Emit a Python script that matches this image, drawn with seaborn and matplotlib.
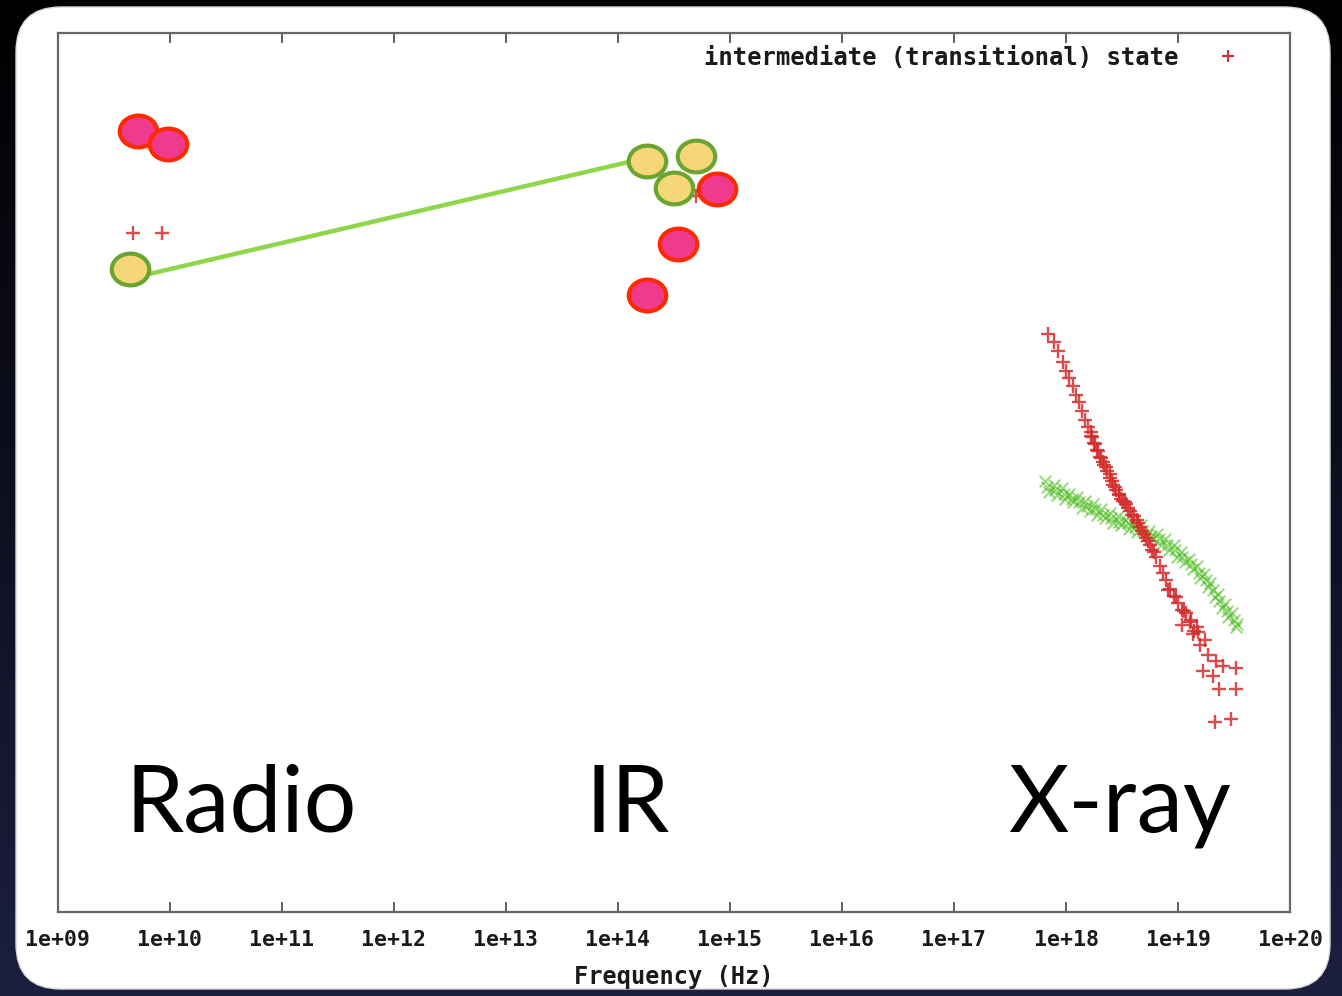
import numpy as np
import pandas as pd
import matplotlib
matplotlib.use("Agg")
import matplotlib.pyplot as plt
import seaborn as sns
from matplotlib.patches import FancyBboxPatch
from matplotlib.path import Path
from matplotlib.lines import Line2D
from matplotlib.ticker import FixedLocator, FuncFormatter, NullLocator
from matplotlib.transforms import IdentityTransform, Affine2D

# ---- spectral energy distribution, log10 frequency [Hz] / log10 flux ----
# intermediate (transitional) state: radio, IR and X-ray spectrum
inter_logf = [9.67, 9.93, 14.70,
              17.84, 17.89, 17.93, 17.97, 18.00, 18.03, 18.06, 18.09, 18.12, 18.14,
              18.17, 18.20, 18.22, 18.25, 18.28, 18.30, 18.33, 18.36, 18.39, 18.41,
              18.44, 18.47, 18.49, 18.53, 18.55, 18.59, 18.63, 18.66, 18.70, 18.73,
              18.77, 18.80, 18.84, 18.87, 18.89, 18.93, 18.96, 19.00, 19.04, 19.07,
              19.11, 19.14, 19.18,
              18.22, 18.23, 18.26, 18.29, 18.31, 18.34, 18.37, 18.39, 18.42, 18.45,
              18.47, 18.51, 18.54, 18.57, 18.61, 18.64, 18.68, 18.71, 18.75, 18.79,
              18.91, 18.98, 19.05, 19.12, 19.17, 19.04, 19.20,
              19.13, 19.24, 19.27, 19.34, 19.22, 19.31, 19.40, 19.52, 19.37, 19.52,
              19.33, 19.47]
inter_logF = [-9.14, -9.14, -8.93,
              -9.71, -9.76, -9.81, -9.87, -9.92, -9.96, -10.01, -10.06, -10.10, -10.15,
              -10.20, -10.24, -10.29, -10.33, -10.37, -10.41, -10.44, -10.47, -10.51, -10.55,
              -10.58, -10.62, -10.65, -10.67, -10.70, -10.74, -10.77, -10.81, -10.85, -10.89,
              -10.94, -10.98, -11.03, -11.07, -11.11, -11.16, -11.20, -11.24, -11.28, -11.30,
              -11.35, -11.40, -11.41,
              -10.27, -10.30, -10.34, -10.38, -10.42, -10.46, -10.49, -10.53, -10.57, -10.60,
              -10.63, -10.66, -10.68, -10.72, -10.75, -10.79, -10.83, -10.87, -10.91, -10.95,
              -11.17, -11.21, -11.29, -11.34, -11.38, -11.37, -11.48,
              -11.42, -11.45, -11.54, -11.57, -11.63, -11.66, -11.60, -11.61, -11.73, -11.73,
              -11.92, -11.90]

# hard state X-ray spectrum
hard_logf = [17.81, 17.85, 17.89, 17.92, 17.96, 17.99, 18.03, 18.06, 18.10, 18.14,
             18.17, 18.21, 18.24, 18.28, 18.31, 18.35, 18.39, 18.42, 18.46, 18.49,
             18.53, 18.56, 18.60, 18.63, 18.67, 18.71, 18.74, 18.78, 18.81, 18.85,
             18.88, 18.92, 18.96, 18.99, 19.03, 19.06, 19.10, 19.13, 19.17, 19.20,
             19.23, 19.27, 19.29, 19.33, 19.36, 19.39, 19.42, 19.45, 19.48, 19.52,
             19.53,
             17.83, 17.90, 17.98, 18.05, 18.12, 18.19, 18.26, 18.33, 18.40, 18.47,
             18.55, 18.62, 18.69, 18.76, 18.83, 18.90, 18.97, 19.04, 19.12, 19.19,
             19.25, 19.31, 19.37, 19.44, 19.50]
hard_logF = [-10.55, -10.61, -10.57, -10.63, -10.59, -10.65, -10.62, -10.67, -10.64, -10.70,
             -10.66, -10.72, -10.68, -10.74, -10.71, -10.76, -10.73, -10.79, -10.75, -10.80,
             -10.77, -10.82, -10.79, -10.84, -10.80, -10.86, -10.83, -10.88, -10.85, -10.91,
             -10.88, -10.94, -10.91, -10.98, -10.95, -11.01, -10.99, -11.05, -11.03, -11.10,
             -11.08, -11.15, -11.13, -11.21, -11.19, -11.27, -11.25, -11.32, -11.30, -11.38,
             -11.36,
             -10.58, -10.60, -10.62, -10.65, -10.67, -10.69, -10.71, -10.74, -10.76, -10.78,
             -10.79, -10.81, -10.83, -10.86, -10.88, -10.91, -10.94, -10.98, -11.02, -11.07,
             -11.11, -11.17, -11.23, -11.29, -11.34]

# hard state radio / IR photometry and the flat jet spectrum joining them
hard_pt_logf = [9.64, 14.26, 14.70, 14.50]
hard_pt_logF = [-9.34, -8.73, -8.70, -8.88]
jet_logf = [9.55, 14.12]
jet_logF = [-9.41, -8.73]

# soft state radio / IR photometry
soft_pt_logf = [9.71, 9.98, 14.88, 14.54, 14.26]
soft_pt_logF = [-8.56, -8.63, -8.89, -9.20, -9.49]

decades = list(range(9, 21))
band_labels = ["Radio", "IR", "X-ray"]
legend_label = "intermediate (transitional) state"
x_label = "Frequency (Hz)"


def to_df(lf, lF):
    return pd.DataFrame({"nu": np.power(10.0, lf), "flux": np.power(10.0, lF)})


inter = to_df(inter_logf, inter_logF)
hard = to_df(hard_logf, hard_logF)
hard_pts = to_df(hard_pt_logf, hard_pt_logF)
soft_pts = to_df(soft_pt_logf, soft_pt_logF)
jet = to_df(jet_logf, jet_logF)

sns.set_theme(style="white")
plt.rcParams["font.family"] = ["DejaVu Sans Mono", "DejaVu Sans"]

W, H = 1342, 996
fig = plt.figure(figsize=(W / 100, H / 100), dpi=100)
fig.patch.set_facecolor("black")

# slide background: dark gradient with a white rounded panel
bg = fig.add_axes([0, 0, 1, 1], zorder=-10)
grad = np.linspace(0, 1, 256)[:, None]
top_c = np.array([0.0, 0.0, 0.0])
bot_c = np.array([0.11, 0.12, 0.25])
img = top_c[None, None, :] * (1 - grad[..., None]) + bot_c[None, None, :] * grad[..., None]
img = np.repeat(img, 4, axis=1)
bg.imshow(img, extent=[0, 1, 0, 1], aspect="auto", origin="upper")
bg.set_axis_off()
panel = FancyBboxPatch((16, 7), 1314, 982,
                       boxstyle="round,pad=0,rounding_size=45",
                       transform=IdentityTransform(), facecolor="white",
                       edgecolor="#d8d8d8", linewidth=1.0, zorder=5)
bg.add_patch(panel)

ax = fig.add_axes([58 / W, 1 - 912 / H, (1290 - 58) / W, (912 - 33) / H])
ax.set_facecolor("white")

red = "#d42b2b"
green_x = "#45bb18"

# flat jet spectrum
sns.lineplot(data=jet, x="nu", y="flux", ax=ax, color="#8ed64a", linewidth=3.2,
             zorder=3, legend=False)

# X-ray spectra
sns.scatterplot(data=hard, x="nu", y="flux", ax=ax, marker="x", s=70,
                color=green_x, alpha=0.55, linewidth=1.4, zorder=2, legend=False)
sns.scatterplot(data=inter, x="nu", y="flux", ax=ax, marker="+", s=90,
                color=red, alpha=0.85, linewidth=1.7, zorder=2, legend=False)

# elliptical photometry markers
circ = Path.unit_circle()
ellipse = circ.transformed(Affine2D().scale(1.18, 1.0))
sns.scatterplot(data=hard_pts, x="nu", y="flux", ax=ax, marker=ellipse, s=27 ** 2,
                color="#f5d679", edgecolor="#6aa532", linewidth=3.0, zorder=4,
                legend=False)
sns.scatterplot(data=soft_pts, x="nu", y="flux", ax=ax, marker=ellipse, s=27 ** 2,
                color="#ef3a8e", edgecolor="#ff2a00", linewidth=3.0, zorder=4,
                legend=False)

ax.set_xscale("log")
ax.set_yscale("log")
ax.set_xlim(10.0 ** decades[0], 10.0 ** decades[-1])
ax.set_ylim(1e-13, 1e-8)

ax.xaxis.set_major_locator(FixedLocator([10.0 ** d for d in decades]))
ax.xaxis.set_major_formatter(FuncFormatter(lambda v, p: "1e+%02d" % int(round(np.log10(v)))))
ax.xaxis.set_minor_locator(NullLocator())
ax.yaxis.set_major_locator(NullLocator())
ax.yaxis.set_minor_locator(NullLocator())

ax.tick_params(axis="x", which="major", direction="in", length=7, width=1.3,
               color="#555555", top=True, bottom=True, pad=13,
               labelsize=15.5, labelcolor="#1a1a1a")
for lab in ax.get_xticklabels():
    lab.set_fontweight("bold")
ax.set_xlabel(x_label, fontdict=dict(family="DejaVu Sans Mono", weight="bold", size=17),
              color="#1a1a1a", labelpad=11)
ax.set_ylabel("")

for s in ax.spines.values():
    s.set_color("#666666")
    s.set_linewidth(1.6)

handle = Line2D([], [], marker="+", linestyle="none", color=red,
                markersize=9, markeredgewidth=1.5)
ax.legend([handle], [legend_label], loc="upper right", markerfirst=False,
          frameon=False, bbox_to_anchor=(0.9769, 0.9966), borderaxespad=0,
          handletextpad=1.09, prop=dict(family="DejaVu Sans Mono", weight="bold", size=17.2),
          labelcolor="#1a1a1a")

# band annotations
big = dict(family="Lato", size=67, color="black", va="baseline", ha="left",
           transform=ax.transAxes, zorder=6)
ax.text((126 - 58) / 1232, (912 - 832) / 879, band_labels[0], **big)
ax.text((586 - 58) / 1232, (912 - 832) / 879, band_labels[1], **big)
ax.text((1008 - 58) / 1232, (912 - 832) / 879, band_labels[2], **big)

fig.savefig("out.png", dpi=100, facecolor=fig.get_facecolor())
